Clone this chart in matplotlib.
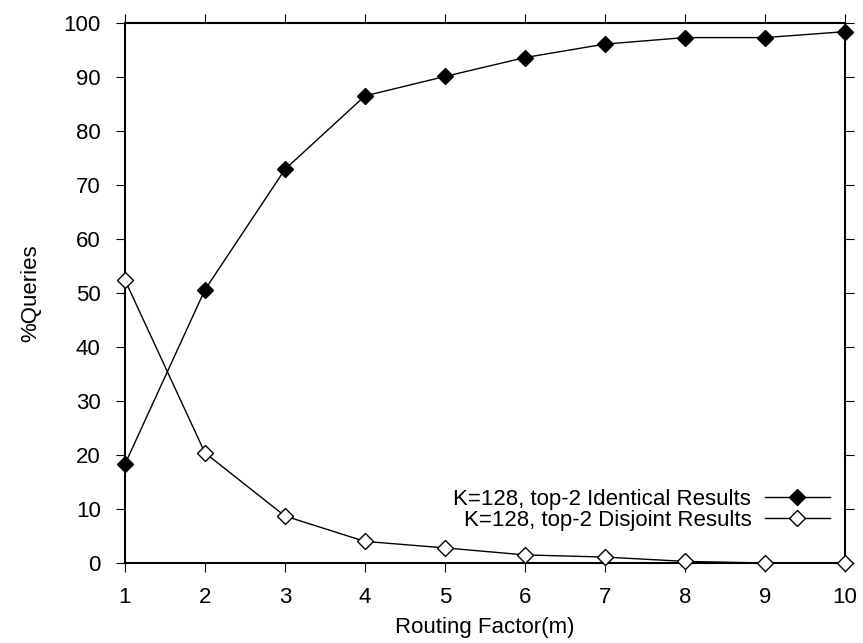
import matplotlib
matplotlib.use('Agg')
import matplotlib.pyplot as plt

plt.rcParams['font.family'] = ['Liberation Sans', 'DejaVu Sans']
plt.rcParams['font.size'] = 16

# routing factor m
routing_factor = [1, 2, 3, 4, 5, 6, 7, 8, 9, 10]
identical = [18.3, 50.6, 72.9, 86.5, 90.1, 93.6, 96.1, 97.3, 97.3, 98.4]
disjoint = [52.4, 20.4, 8.7, 4.0, 2.8, 1.5, 1.1, 0.3, 0.0, 0.0]

fig = plt.figure(figsize=(8.63, 6.43), dpi=100)
ax = fig.add_axes([0.1448, 0.1244, 0.8342, 0.8398])

ax.plot(routing_factor, identical, color='black', lw=1, marker='D', ms=8,
        mfc='black', mec='black', clip_on=False, zorder=3,
        label='K=128, top-2 Identical Results')
ax.plot(routing_factor, disjoint, color='black', lw=1, marker='D', ms=8,
        mfc='white', mec='black', clip_on=False, zorder=3,
        label='K=128, top-2 Disjoint Results')

ax.set_xlim(1, 10)
ax.set_ylim(0, 100)
ax.set_xticks(routing_factor)
ax.set_yticks(range(0, 101, 10))
ax.tick_params(direction='out', length=6.5, width=0.8, top=True, right=True,
               labeltop=False, labelright=False, pad=11)
for s in ax.spines.values():
    s.set_linewidth(1.5)

ax.set_xlabel('Routing Factor(m)', labelpad=6)
ax.set_ylabel('%Queries', labelpad=16)

leg = ax.legend(loc='lower right', bbox_to_anchor=(0.979, 0.06), frameon=False,
                markerfirst=False, handlelength=2.93, labelspacing=0.0,
                handletextpad=0.6, borderaxespad=0, borderpad=0)
for t in leg.get_texts():
    t.set_ha('right')

fig.savefig('out.png', dpi=100)
